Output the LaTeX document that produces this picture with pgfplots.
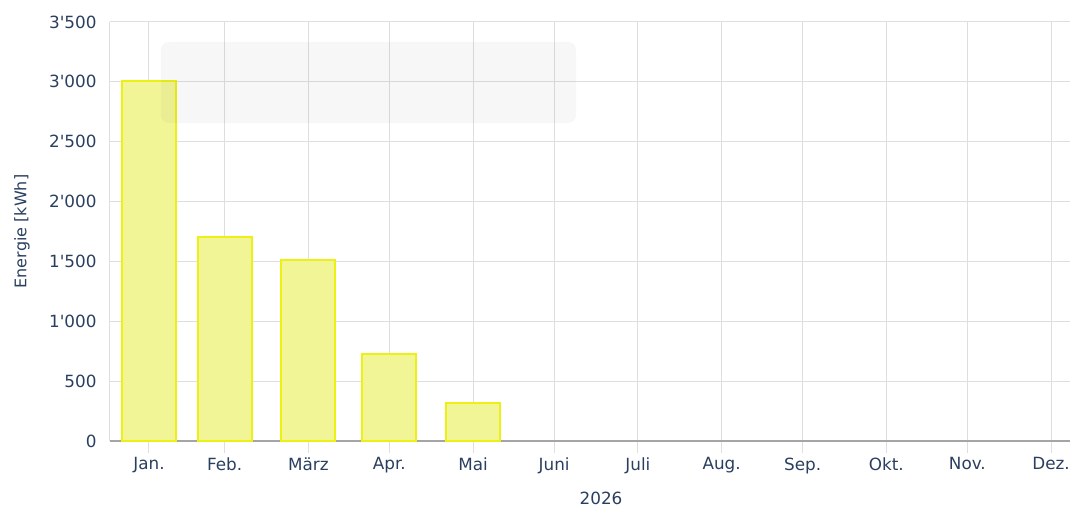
\documentclass[border=0pt]{standalone}
\usepackage{pgfplots}
\pgfplotsset{compat=1.18}
\usepackage{fontspec}
\setmainfont{DejaVu Sans}
\definecolor{txt}{RGB}{42,63,95}
\definecolor{grd}{RGB}{222,222,222}
\definecolor{barfill}{RGB}{242,245,150}
\definecolor{baredge}{RGB}{236,240,20}
\definecolor{axl}{RGB}{165,165,165}
\newcommand{\q}{\textquotesingle}
\begin{document}
\begin{tikzpicture}
\begin{axis}[
  at={(0,0)}, anchor=south west,
  scale only axis, width=960pt, height=419pt,
  xmin=16.56, xmax=372.0, ymin=0, ymax=3500,
  axis x line*=bottom, axis y line*=left,
  x axis line style={axl, line width=1.2pt, -},
  y axis line style={grd, line width=1pt, -},
  xtick={31,59,90,120,151,181,212,243,273,304,334,365},
  xticklabels={Jan.,Feb.,März,Apr.,Mai,Juni,Juli,Aug.,Sep.,Okt.,Nov.,Dez.},
  ytick={0,500,1000,1500,2000,2500,3000,3500},
  yticklabels={0,500,1\q000,1\q500,2\q000,2\q500,3\q000,3\q500},
  xmajorgrids, ymajorgrids,
  grid style={grd, line width=1pt},
  tick align=outside,
  major tick length=12pt,
  xtick style={grd, line width=1pt},
  ytick style={draw=none},
  tick label style={font=\fontsize{16.8}{19}\selectfont, text=txt},
  yticklabel style={xshift=2pt},
  xticklabel style={yshift=-1pt},
  ylabel={Energie [kWh]},
  ylabel style={at={(axis description cs:-0.0917,0.5)}, anchor=center, font=\fontsize{16}{19}\selectfont, text=txt},
  xlabel={2026},
  xlabel style={at={(axis description cs:0.5115,0)}, anchor=center, yshift=-57pt, font=\fontsize{16.8}{19}\selectfont, text=txt},
  ybar, bar width=20,
  clip=false,
]
\addplot[fill=barfill, draw=baredge, line width=2pt] coordinates {
  (31,3010) (59,1700) (90,1510) (120,725) (151,315)
};
\fill[black, opacity=0.03, rounded corners=8pt] (axis cs:35.4,2656) rectangle (axis cs:189.1,3333);
\end{axis}
\pgfresetboundingbox
\path (-110pt,-67pt) rectangle (962pt,441pt);
\end{tikzpicture}
\end{document}
